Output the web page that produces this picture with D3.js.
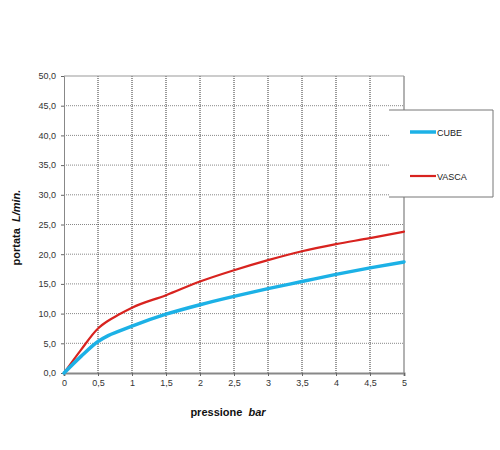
<!DOCTYPE html>
<html>
<head>
<meta charset="utf-8">
<script src="https://cdn.jsdelivr.net/npm/d3@7"></script>
<style>
  body { margin: 0; background: #fff; }
  text { font-family: 'Liberation Sans', Arial, sans-serif; }
</style>
</head>
<body>
<div id="chart"></div>
<script>
let pressure = [0, 0.25, 0.5, 0.65, 0.8, 1, 1.5, 2, 2.5, 3, 3.5, 4, 4.5, 5]
let cube = [0, 2.8, 5.3, 6.3, 7.0, 7.9, 9.9, 11.5, 12.9, 14.2, 15.4, 16.6, 17.7, 18.7]
let vasca = [0, 3.9, 7.5, 8.8, 9.8, 11.0, 13.1, 15.4, 17.3, 19.0, 20.5, 21.7, 22.7, 23.8]
let xTicks = [0, 0.5, 1, 1.5, 2, 2.5, 3, 3.5, 4, 4.5, 5]
let yTicks = [0, 5, 10, 15, 20, 25, 30, 35, 40, 45, 50]
let seriesNames = ['CUBE', 'VASCA']

let margin = { top: 76, left: 64, right: 96, bottom: 77 }
let width = 500 - margin.left - margin.right
let height = 450 - margin.top - margin.bottom

let svg = d3
  .select('#chart')
  .append('svg')
  .attr('width', 500)
  .attr('height', 450)
  .append('g')
  .attr('transform', 'translate(' + margin.left + ',' + margin.top + ')')

let xScale = d3.scaleLinear().domain([0, 5]).range([0, width])
let yScale = d3.scaleLinear().domain([0, 50]).range([height, 0])

let colorScale = d3.scaleOrdinal().domain(seriesNames).range(['#1cb1e6', '#d8231f'])
let widthScale = d3.scaleOrdinal().domain(seriesNames).range([3.5, 2.2])

// grid
svg.selectAll('.hgrid')
  .data(yTicks.slice(1, -1))
  .enter()
  .append('line')
  .attr('class', 'hgrid')
  .attr('x1', 0)
  .attr('x2', width)
  .attr('y1', d => yScale(d))
  .attr('y2', d => yScale(d))
  .attr('stroke', '#888')
  .attr('stroke-width', 1)
  .attr('stroke-dasharray', '1,1')

svg.selectAll('.vgrid')
  .data(xTicks.slice(1, -1))
  .enter()
  .append('line')
  .attr('class', 'vgrid')
  .attr('x1', d => xScale(d))
  .attr('x2', d => xScale(d))
  .attr('y1', 0)
  .attr('y2', height)
  .attr('stroke', '#333')
  .attr('stroke-width', 1)
  .attr('stroke-dasharray', '1,1')

// frame top + right
svg.append('line')
  .attr('x1', 0).attr('x2', width).attr('y1', 0).attr('y2', 0)
  .attr('stroke', '#999').attr('stroke-width', 1)
svg.append('line')
  .attr('x1', width).attr('x2', width).attr('y1', 0).attr('y2', height)
  .attr('stroke', '#999').attr('stroke-width', 1.5)

// axes
let xAxis = d3.axisBottom(xScale)
  .tickValues(xTicks)
  .tickSize(3)
  .tickFormat(d => String(d).replace('.', ','))

let yAxis = d3.axisLeft(yScale)
  .tickValues(yTicks)
  .tickSize(3)
  .tickPadding(5)
  .tickFormat(d => d.toFixed(1).replace('.', ','))

let gx = svg.append('g')
  .attr('transform', 'translate(0,' + height + ')')
  .call(xAxis)
gx.select('.domain').attr('stroke', '#888').attr('stroke-width', 2)

let gy = svg.append('g').call(yAxis)
gy.select('.domain').attr('stroke', '#888').attr('stroke-width', 1)

svg.selectAll('.tick line').attr('stroke', '#666')
svg.selectAll('.tick text')
  .attr('font-size', 9)
  .attr('fill', '#333')
  .attr('font-family', 'Liberation Sans, Arial, sans-serif')
gx.selectAll('.tick text').attr('dy', '0.8em')

// lines
let line = d3.line()
  .x((d, i) => xScale(pressure[i]))
  .y(d => yScale(d))
  .curve(d3.curveMonotoneX)

let data = [
  { name: 'VASCA', values: vasca },
  { name: 'CUBE', values: cube }
]

svg.selectAll('.series')
  .data(data)
  .enter()
  .append('path')
  .attr('class', 'series')
  .attr('d', d => line(d.values))
  .attr('fill', 'none')
  .attr('stroke', d => colorScale(d.name))
  .attr('stroke-width', d => widthScale(d.name))
  .attr('stroke-linecap', 'round')
  .attr('stroke-linejoin', 'round')

// axis titles
svg.append('text')
  .attr('x', width / 2 - 6)
  .attr('y', height + 43)
  .attr('text-anchor', 'middle')
  .attr('font-size', 11)
  .attr('font-weight', 'bold')
  .attr('fill', '#111')
  .html('pressione&#160;&#160;<tspan font-style="italic">bar</tspan>')

svg.append('text')
  .attr('transform', 'translate(-44,' + (height / 2 + 3) + ') rotate(-90)')
  .attr('text-anchor', 'middle')
  .attr('font-size', 11)
  .attr('font-weight', 'bold')
  .attr('fill', '#111')
  .html('portata&#160;&#160;<tspan font-style="italic">L/min.</tspan>')

// legend
let legend = svg.append('g')
  .attr('transform', 'translate(' + (width - 15) + ',34)')

legend.append('path')
  .attr('d', 'M0,0 H104 V87 H0')
  .attr('fill', '#fff')
  .attr('stroke', '#777')
  .attr('stroke-width', 1)

legend
  .selectAll('.legend-entry')
  .data(seriesNames)
  .enter()
  .append('g')
  .attr('class', 'legend-entry')
  .attr('transform', (d, i) => `translate(21,${22 + i * 44})`)
  .each(function (d) {
    let g = d3.select(this)
    g.append('line')
      .attr('x1', 0)
      .attr('x2', 26)
      .attr('stroke', colorScale(d))
      .attr('stroke-width', widthScale(d))
    g.append('text')
      .text(d)
      .attr('x', 27)
      .attr('dy', 3.5)
      .attr('font-size', 9)
      .attr('fill', '#222')
  })
</script>
</body>
</html>
